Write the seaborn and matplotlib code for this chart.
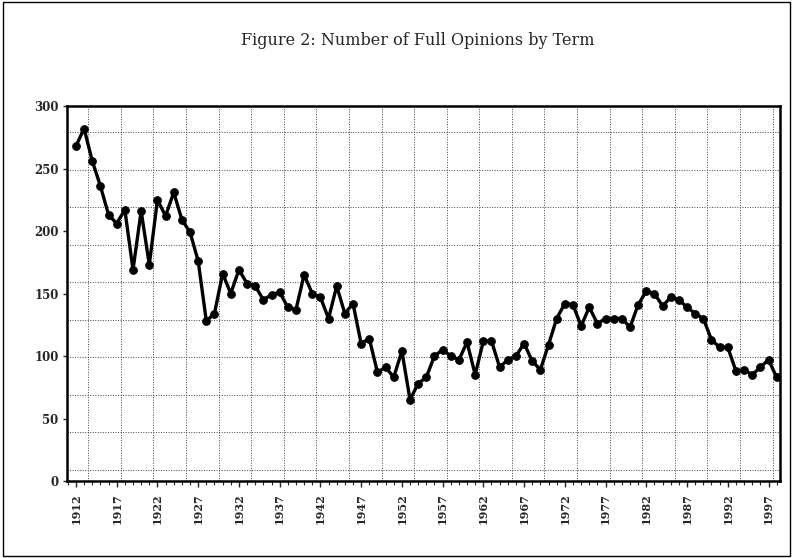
import numpy as np
import pandas as pd
import seaborn as sns
import matplotlib.pyplot as plt
from matplotlib.ticker import MultipleLocator, FixedLocator
from matplotlib.patches import Rectangle

# data: full opinions per term, 1912-1998
years = list(range(1912, 1999))
opinions = [268, 282, 256, 236, 213, 206, 217, 169, 216, 173,
            225, 212, 231, 209, 199, 176, 128, 134, 166, 150,
            169, 158, 156, 145, 149, 151, 139, 137, 165, 150,
            147, 130, 156, 134, 142, 110, 114, 87, 91, 83,
            104, 65, 78, 83, 100, 105, 100, 97, 111, 85,
            112, 112, 91, 97, 100, 110, 96, 89, 109, 130,
            142, 141, 124, 139, 126, 130, 130, 130, 123, 141,
            152, 150, 140, 147, 145, 139, 134, 130, 113, 107,
            107, 88, 89, 85, 91, 97, 83]
tick_years = list(range(1912, 1998, 5))
y_ticks = [0, 50, 100, 150, 200, 250, 300]

df = pd.DataFrame({'term': years, 'opinions': opinions})

sns.set_style("ticks")
plt.rcParams['font.family'] = ['DejaVu Serif']

fig = plt.figure(figsize=(7.93, 5.58), dpi=100)
ax = fig.add_axes([0.0845, 0.138, 0.899, 0.672])

# noisy scan grid approximated by dotted lines
for yy in np.arange(9, 300, 30):
    ax.axhline(yy, color='#444444', lw=0.7, ls=(0, (1, 1.6)), zorder=0)
for xx in np.arange(1913.5, 1999, 4):
    ax.axvline(xx, color='#444444', lw=0.7, ls=(0, (1, 1.6)), zorder=0)

sns.lineplot(data=df, x='term', y='opinions', ax=ax, color='black',
             linewidth=2.4, marker='o', markersize=5.5,
             markeredgecolor='black', markerfacecolor='black')

ax.set_xlim(1910.9, 1998.4)
ax.set_ylim(0, 300)
ax.set_xticks(tick_years)
ax.set_xticklabels([str(t) for t in tick_years], rotation=90,
                   fontsize=8, fontweight='bold')
ax.xaxis.set_minor_locator(MultipleLocator(1))
ax.set_yticks(y_ticks)
ax.set_yticklabels([str(v) for v in y_ticks], fontsize=8.5, fontweight='bold')
ax.tick_params(axis='x', which='major', length=4, width=1, pad=5)
ax.tick_params(axis='x', which='minor', length=3, width=0.8)
ax.tick_params(axis='y', length=3, width=1, pad=3)
ax.set_xlabel('')
ax.set_ylabel('')
for s in ax.spines.values():
    s.set_visible(True)
    s.set_linewidth(1.8)
    s.set_color('black')

fig.text(0.527, 0.928, 'Figure 2: Number of Full Opinions by Term',
         ha='center', va='center', fontsize=11.5)

# outer frame of the scanned figure
fig.patches.append(Rectangle((0.004, 0.004), 0.992, 0.992, transform=fig.transFigure,
                             fill=False, edgecolor='black', lw=1))

fig.savefig('out.png', dpi=100)
